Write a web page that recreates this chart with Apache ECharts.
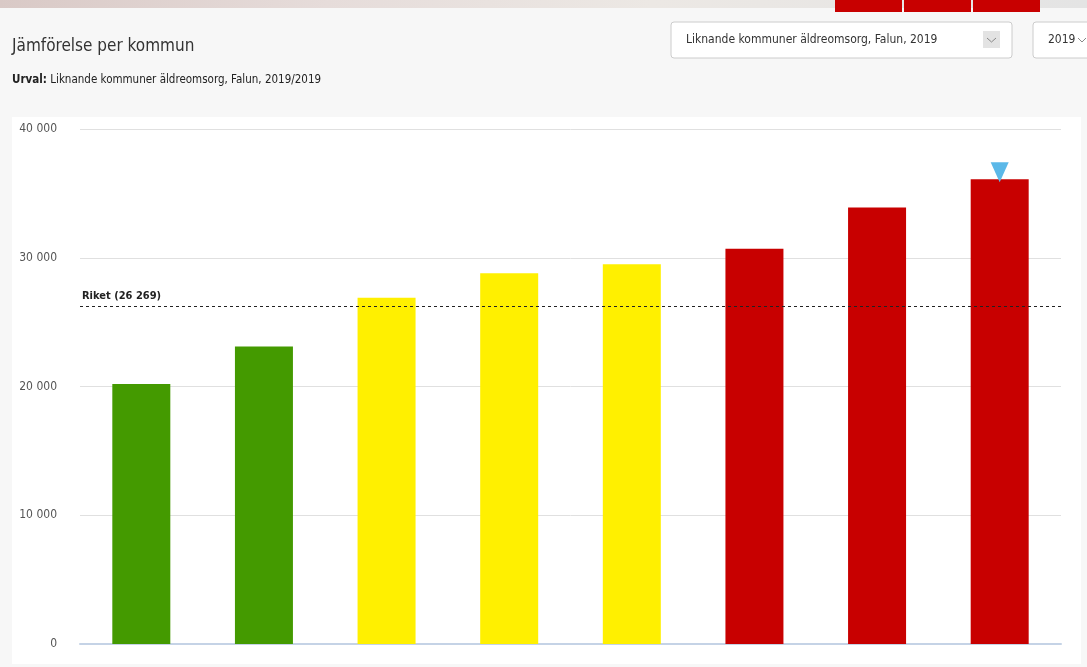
<!DOCTYPE html>
<html>
<head>
<meta charset="utf-8">
<title>Jämförelse per kommun</title>
<script src="https://cdn.jsdelivr.net/npm/echarts@6/dist/echarts.min.js"></script>
<style>
    html, body { margin: 0; padding: 0; background: #f7f7f7; }
    #chart { width: 1087px; height: 667px; }
</style>
</head>
<body>
<div id="chart"></div>
<script>
// data
var kommuner = ['Kommun 1', 'Kommun 2', 'Kommun 3', 'Kommun 4', 'Kommun 5', 'Kommun 6', 'Kommun 7', 'Falun'];
var varden = [20200, 23100, 26900, 28800, 29500, 30700, 33900, 36100];
var farger = ['#449a00', '#449a00', '#fff000', '#fff000', '#fff000', '#c80000', '#c80000', '#c80000'];
var riket = 26269;
var markerad = 'Falun';

var FONT = '"Liberation Sans Narrow", "DejaVu Sans Condensed", sans-serif';

function fmt(v) {
    return String(v).replace(/\B(?=(\d{3})+(?!\d))/g, ' ');
}

var chart = echarts.init(document.getElementById('chart'), null, { renderer: 'canvas' });

chart.setOption({
    backgroundColor: '#f7f7f7',
    animation: false,
    textStyle: { fontFamily: FONT },
    graphic: [
        // blurred strip at the very top
        { type: 'rect', shape: { x: 0, y: 0, width: 1087, height: 8 },
          style: { fill: new echarts.graphic.LinearGradient(0, 0, 1, 0, [
              { offset: 0, color: '#d9c9c6' }, { offset: 0.3, color: '#e6dcda' },
              { offset: 0.6, color: '#ece8e4' }, { offset: 1, color: '#e4e4e4' }]) } },
        { type: 'rect', shape: { x: 835, y: 0, width: 67, height: 12 }, style: { fill: '#c80000' } },
        { type: 'rect', shape: { x: 904, y: 0, width: 67, height: 12 }, style: { fill: '#c80000' } },
        { type: 'rect', shape: { x: 973, y: 0, width: 67, height: 12 }, style: { fill: '#c80000' } },
        // chart panel
        { type: 'rect', z: -10, shape: { x: 12, y: 117, width: 1069, height: 547 }, style: { fill: '#ffffff' } },
        // title and subtitle
        { type: 'text', left: 12, top: 38, style: { text: 'Jämförelse per kommun', fill: '#333', font: '17px ' + FONT } },
        { type: 'text', left: 12, top: 74, style: {
            text: '{b|Urval:} {n|Liknande kommuner äldreomsorg, Falun, 2019/2019}',
            rich: { b: { fontWeight: 'bold', fontSize: 11.5, fontFamily: FONT, fill: '#222' },
                    n: { fontSize: 11.5, fontFamily: FONT, fill: '#222' } } } },
        // dropdowns
        { type: 'rect', shape: { x: 671, y: 22, width: 341, height: 36, r: 3 },
          style: { fill: '#fff', stroke: '#cccccc', lineWidth: 1 } },
        { type: 'text', left: 686, top: 34, style: { text: 'Liknande kommuner äldreomsorg, Falun, 2019', fill: '#333', font: '12px ' + FONT } },
        { type: 'rect', shape: { x: 983, y: 31, width: 17, height: 17 }, style: { fill: '#e3e3e3' } },
        { type: 'polyline', shape: { points: [[987, 38], [991.5, 42], [996, 38]] }, style: { stroke: '#888', lineWidth: 1, fill: null } },
        { type: 'rect', shape: { x: 1033, y: 22, width: 70, height: 36, r: 3 },
          style: { fill: '#fff', stroke: '#cccccc', lineWidth: 1 } },
        { type: 'text', left: 1048, top: 34, style: { text: '2019', fill: '#333', font: '12px ' + FONT } },
        { type: 'polyline', shape: { points: [[1078, 38], [1082, 42], [1086, 38]] }, style: { stroke: '#888', lineWidth: 1, fill: null } }
    ],
    grid: { left: 80, right: 26, top: 129, bottom: 23 },
    xAxis: {
        type: 'category',
        data: kommuner,
        axisTick: { show: false },
        axisLabel: { show: false },
        axisLine: { lineStyle: { color: '#c5d3e6', width: 2 } }
    },
    yAxis: {
        type: 'value',
        min: 0,
        max: 40000,
        interval: 10000,
        axisLabel: { color: '#555', fontSize: 12, fontFamily: FONT, margin: 23, formatter: fmt },
        splitLine: { lineStyle: { color: '#e0e0e0', width: 1 } },
        axisLine: { show: false },
        axisTick: { show: false }
    },
    series: [{
        type: 'bar',
        barWidth: 58,
        data: varden.map(function (v, i) {
            return { value: v, itemStyle: { color: farger[i] } };
        }),
        markLine: {
            symbol: 'none',
            silent: true,
            lineStyle: { color: '#222', type: [3, 3], width: 1 },
            label: {
                position: 'insideStartTop',
                formatter: 'Riket (' + fmt(riket) + ')',
                color: '#222',
                fontFamily: FONT,
                fontSize: 11,
                fontWeight: 'bold',
                distance: [2, 4]
            },
            data: [{ yAxis: riket }]
        },
        markPoint: {
            symbol: 'triangle',
            symbolRotate: 180,
            symbolSize: [18, 20],
            symbolOffset: [0, -7],
            itemStyle: { color: '#5bb8e8' },
            label: { show: false },
            data: [{ coord: [markerad, varden[kommuner.indexOf(markerad)]] }]
        }
    }]
});
</script>
</body>
</html>
